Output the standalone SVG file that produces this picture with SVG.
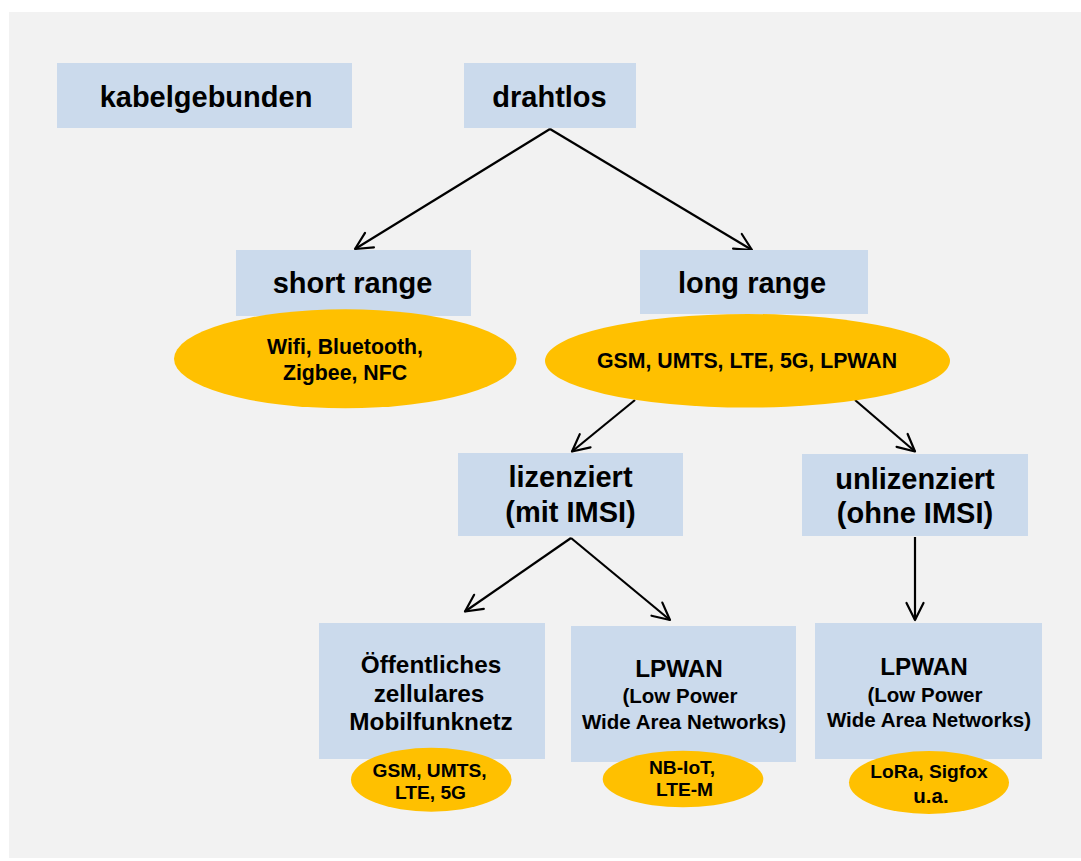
<svg xmlns="http://www.w3.org/2000/svg" width="1081" height="861" viewBox="0 0 1081 861">
<defs>
<style>
.box{fill:#cbdaec}
.oval{fill:#ffc000}
text{font-family:"Liberation Sans",Arial,sans-serif;font-weight:bold;fill:#000;text-anchor:middle}
.t29{font-size:29px}
.t24{font-size:24.3px}
.t20{font-size:20.5px}
.t21{font-size:21.3px}
.t19{font-size:19.2px}
.conn{stroke:#000;stroke-width:2.2;fill:none;marker-end:url(#arr)}
</style>
<marker id="arr" markerUnits="userSpaceOnUse" markerWidth="24" markerHeight="24" viewBox="-20 -12 24 24" refX="0" refY="0" orient="auto">
<path d="M-17,-8.5 L0,0 L-17,8.5" fill="none" stroke="#000" stroke-width="2.2" stroke-linejoin="round" stroke-linecap="round"/>
</marker>
</defs>
<rect x="0" y="0" width="1081" height="861" fill="#ffffff"/>
<rect x="9" y="12" width="1072" height="846" fill="#f2f2f2"/>

<g id="connectors">
<line class="conn" x1="550" y1="129" x2="355" y2="249"/>
<line class="conn" x1="550" y1="129" x2="752" y2="250"/>
<line class="conn" x1="635" y1="400" x2="572" y2="451.5"/>
<line class="conn" x1="855" y1="400" x2="915" y2="451.5"/>
<line class="conn" x1="571" y1="538" x2="465" y2="611.5"/>
<line class="conn" x1="571" y1="538" x2="670" y2="620"/>
<line class="conn" x1="915" y1="537" x2="915" y2="620"/>
</g>

<g id="kabelgebunden">
<rect class="box" x="57" y="63" width="295" height="65"/>
<text class="t29" x="206" y="107">kabelgebunden</text>
</g>

<g id="drahtlos">
<rect class="box" x="464" y="63" width="172" height="65"/>
<text class="t29" x="549.5" y="107">drahtlos</text>
</g>

<g id="short-range">
<rect class="box" x="236" y="250" width="235" height="66"/>
<text class="t29" x="352.5" y="293">short range</text>
</g>

<g id="short-range-tech">
<ellipse class="oval" cx="345.3" cy="358.8" rx="171.3" ry="49.5"/>
<text class="t21" x="345" y="354">Wifi, Bluetooth,</text>
<text class="t21" x="345" y="380">Zigbee, NFC</text>
</g>

<g id="long-range">
<rect class="box" x="640" y="250" width="228" height="64"/>
<text class="t29" x="752" y="293">long range</text>
</g>

<g id="long-range-tech">
<ellipse class="oval" cx="747.5" cy="360.8" rx="202.5" ry="46.8"/>
<text class="t21" x="747" y="368">GSM, UMTS, LTE, 5G, LPWAN</text>
</g>

<g id="lizenziert">
<rect class="box" x="458" y="453" width="225" height="83"/>
<text class="t29" x="570.5" y="487">lizenziert</text>
<text class="t29" x="570.5" y="522">(mit IMSI)</text>
</g>

<g id="unlizenziert">
<rect class="box" x="802" y="454" width="226" height="82"/>
<text class="t29" x="915" y="489">unlizenziert</text>
<text class="t29" x="915" y="523">(ohne IMSI)</text>
</g>

<g id="mobilfunknetz">
<rect class="box" x="319" y="623" width="226" height="136"/>
<text class="t24" x="431" y="672.5">Öffentliches</text>
<text class="t24" x="429" y="701.5">zellulares</text>
<text class="t24" x="431" y="730">Mobilfunknetz</text>
</g>

<g id="mobilfunknetz-tech">
<ellipse class="oval" cx="431.3" cy="779.7" rx="80.3" ry="32"/>
<text class="t19" x="429.5" y="776.5">GSM, UMTS,</text>
<text class="t19" x="430.5" y="798.5">LTE, 5G</text>
</g>

<g id="lpwan-lizenziert">
<rect class="box" x="571" y="626" width="225" height="136"/>
<text class="t24" x="679" y="676.5">LPWAN</text>
<text class="t20" x="680" y="702.5">(Low Power</text>
<text class="t20" x="684" y="728.5">Wide Area Networks)</text>
</g>

<g id="lpwan-lizenziert-tech">
<ellipse class="oval" cx="683" cy="779" rx="80.3" ry="28.3"/>
<text class="t19" x="682" y="774">NB-IoT,</text>
<text class="t19" x="684.5" y="796">LTE-M</text>
</g>

<g id="lpwan-unlizenziert">
<rect class="box" x="815" y="623" width="227" height="136"/>
<text class="t24" x="924" y="675">LPWAN</text>
<text class="t20" x="925" y="701.5">(Low Power</text>
<text class="t20" x="929" y="726.5">Wide Area Networks)</text>
</g>

<g id="lpwan-unlizenziert-tech">
<ellipse class="oval" cx="929" cy="782.5" rx="80" ry="31.5"/>
<text class="t19" x="929" y="777.5">LoRa, Sigfox</text>
<text class="t20" x="931" y="802.5">u.a.</text>
</g>
</svg>
